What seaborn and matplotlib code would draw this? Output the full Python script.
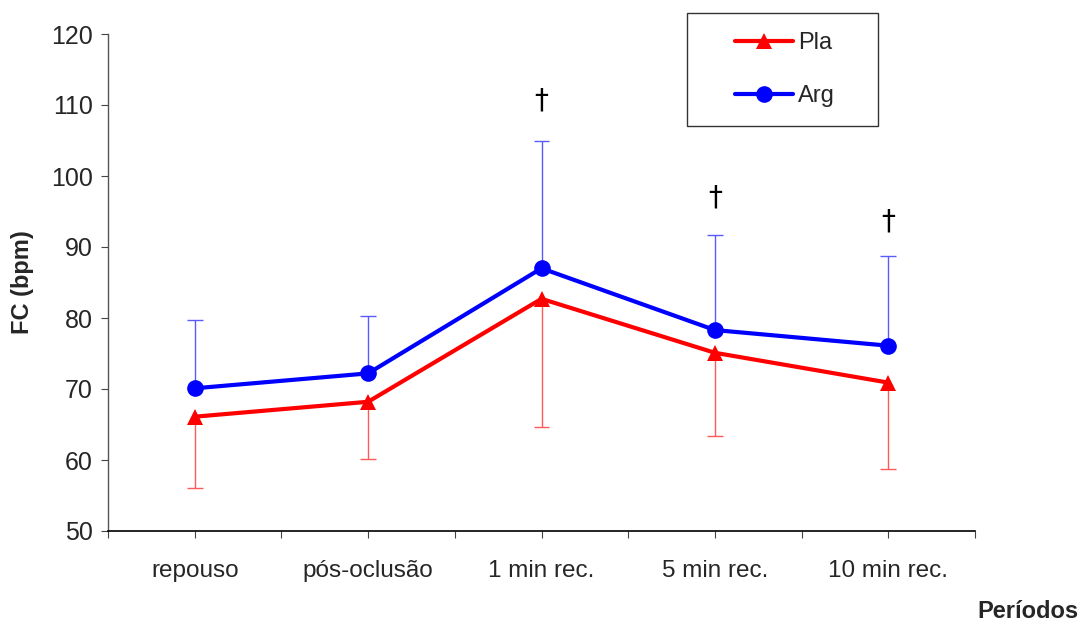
import matplotlib
matplotlib.use("Agg")
import matplotlib.pyplot as plt
import seaborn as sns
import pandas as pd
import numpy as np
from matplotlib.patches import Rectangle

categories = ["repouso", "pós-oclusão", "1 min rec.", "5 min rec.", "10 min rec."]
pla_mean = [66.1, 68.2, 82.7, 75.1, 70.9]
pla_lower = [56.0, 60.2, 64.7, 63.4, 58.7]
arg_mean = [70.1, 72.2, 87.0, 78.3, 76.1]
arg_upper = [79.7, 80.3, 105.0, 91.7, 88.8]
dagger_y = [110.6, 97.0, 93.6]
dagger_idx = [2, 3, 4]

sns.set_style("white")
plt.rcParams['font.family'] = ['Liberation Sans', 'DejaVu Sans']

W, H = 1079, 626
fig = plt.figure(figsize=(W/100, H/100), dpi=100)
ax = fig.add_axes([108/W, 1 - 531/H, (975-108)/W, (531-34)/H])

x = np.arange(len(categories))
df = pd.DataFrame({
    "x": np.concatenate([x, x]),
    "FC": pla_mean + arg_mean,
    "grupo": ["Pla"] * 5 + ["Arg"] * 5,
})

# one-sided error bars (stem + cap at the far end only)
cap = 0.045
ax.vlines(x, pla_lower, pla_mean, colors='#ff5a5a', linewidth=1.0, zorder=1)
ax.hlines(pla_lower, x - cap, x + cap, colors='#ff5a5a', linewidth=1.0, zorder=1)
ax.vlines(x, arg_mean, arg_upper, colors='#5a5aff', linewidth=1.0, zorder=1)
ax.hlines(arg_upper, x - cap, x + cap, colors='#5a5aff', linewidth=1.0, zorder=1)

sns.lineplot(data=df, x="x", y="FC", hue="grupo", style="grupo",
             palette={"Pla": "#ff0000", "Arg": "#0000ff"},
             markers={"Pla": "^", "Arg": "o"}, dashes=False,
             markersize=12, markeredgewidth=0, linewidth=3, ax=ax, zorder=3)

for i, yv in zip(dagger_idx, dagger_y):
    ax.text(i, yv, "†", ha='center', va='center', fontsize=20, color='black',
            fontfamily='DejaVu Sans')

ax.set_xlim(-0.5, 4.5)
ax.set_ylim(50, 120)
ax.set_yticks(np.arange(50, 121, 10))
ax.set_xticks(np.arange(-0.5, 4.6, 0.5))
ax.set_xticklabels(["" if (k % 2 == 0) else categories[k // 2] for k in range(11)])
ax.tick_params(axis='x', direction='out', length=5, width=0.8, color='#444444',
               labelsize=17.5, pad=16, bottom=True)
ax.tick_params(axis='y', direction='out', length=5, width=0.8, color='#444444',
               labelsize=18, pad=6, left=True)

ax.spines['top'].set_visible(False)
ax.spines['right'].set_visible(False)
ax.spines['left'].set_color('#555555')
ax.spines['bottom'].set_color('#000000')
ax.spines['left'].set_linewidth(1.0)
ax.spines['bottom'].set_linewidth(1.2)

ax.set_xlabel("")
ax.set_ylabel("FC (bpm)", fontsize=17, fontweight='bold', labelpad=12)
fig.text(1028/W, 1 - 612/H, "Períodos", fontsize=17, fontweight='bold',
         ha='center', va='center')

handles, labels = ax.get_legend_handles_labels()
order = [labels.index("Pla"), labels.index("Arg")]
leg = ax.legend([handles[i] for i in order], [labels[i] for i in order],
                loc='center', bbox_to_anchor=(785/W, 1 - 69.5/H),
                bbox_transform=fig.transFigure,
                frameon=False, fontsize=17, handlelength=2.45, handletextpad=0.2,
                borderpad=0, labelspacing=1.3, borderaxespad=0)
fig.patches.append(Rectangle((687/W, 1 - 126/H), (878-687)/W, (126-13)/H,
                             transform=fig.transFigure, fill=False,
                             edgecolor='#333333', linewidth=1.0))

fig.savefig("out.png", dpi=100)
